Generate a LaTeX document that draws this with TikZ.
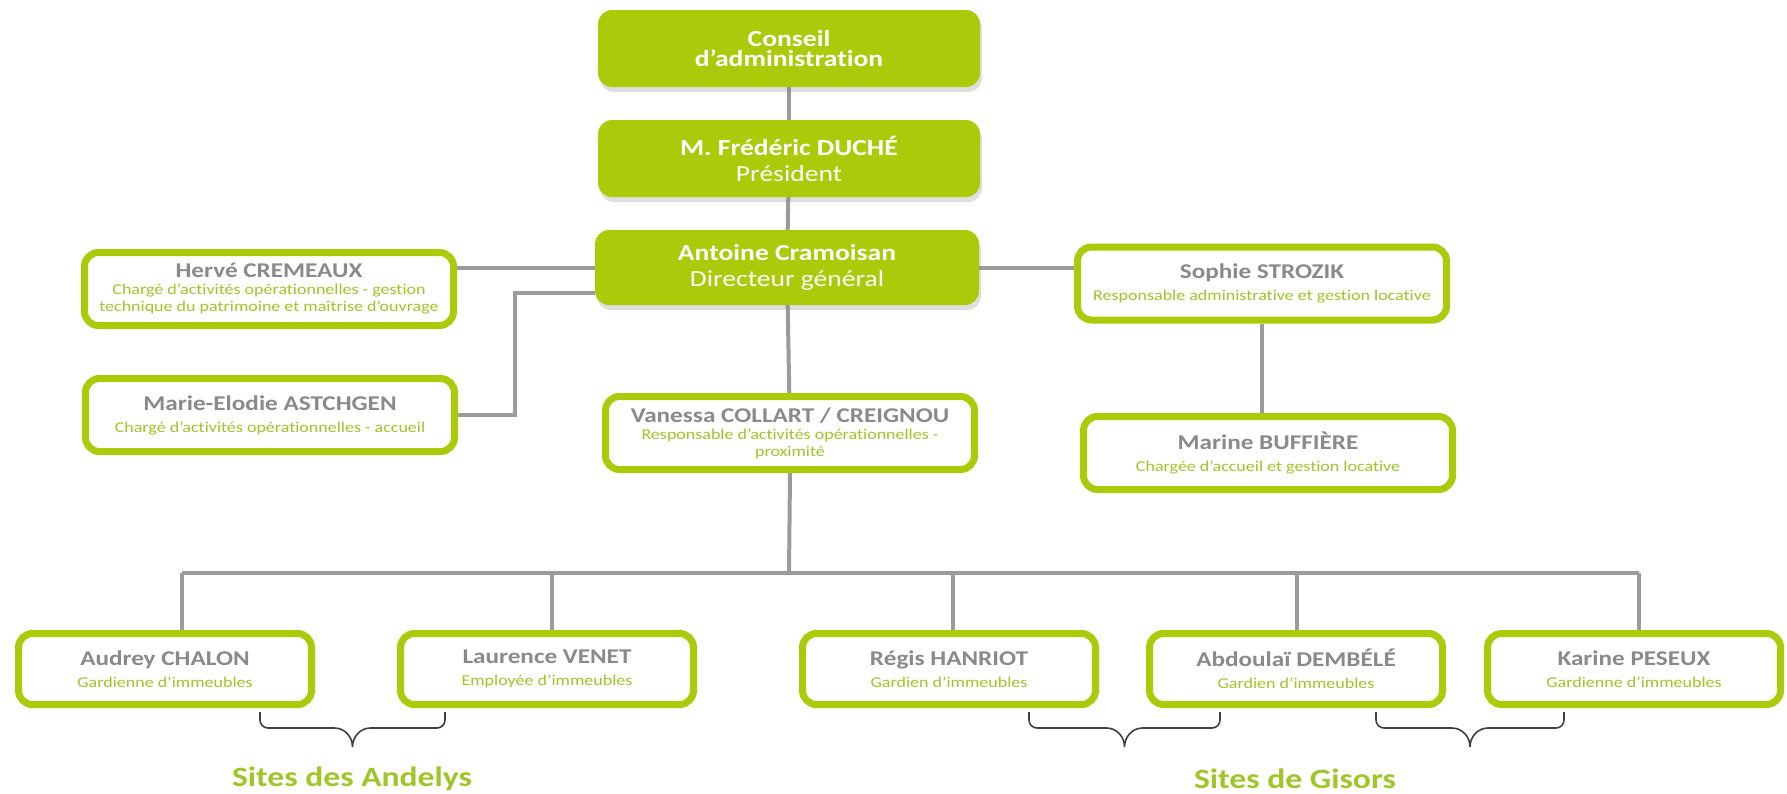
\documentclass[tikz,border=0pt]{standalone}
\usepackage{fontspec}
\setmainfont{Carlito}[FakeStretch=1.2,Ligatures=NoCommon]
\usetikzlibrary{positioning,calc,backgrounds,shadows}
\definecolor{leaf}{RGB}{170,202,10}
\definecolor{leaftext}{RGB}{158,198,40}
\definecolor{slate}{RGB}{138,138,138}
\definecolor{wiregray}{RGB}{155,155,155}

\newcommand{\who}[1]{{\fontsize{21}{17}\selectfont\bfseries\color{slate}#1}}
\newcommand{\role}[1]{{\color{leaftext}#1}}
\newcommand{\curlybrace}[2]{%
  \draw[curly] (#1) -- ++(0,8) to[out=-90,in=180] ++(8,8)
    -- ($(#1)!.5!(#2)+(-18,16)$) to[out=0,in=90] ($(#1)!.5!(#2)+(0,35)$)
    to[out=90,in=180] ($(#1)!.5!(#2)+(18,16)$) -- ($(#2)+(-8,16)$)
    to[out=0,in=-90] ($(#2)+(0,8)$) -- (#2);}

\begin{document}
\begin{tikzpicture}[x=1pt,y=-1pt,
    box/.style={rectangle,rounded corners=14pt,align=center,inner sep=0pt},
    lead/.style={box,fill=leaf,text=white,minimum width=382pt,minimum height=77pt,
      font=\fontsize{23}{20}\selectfont,
      drop shadow={shadow xshift=2pt,shadow yshift=-5pt,opacity=.25}},
    staff/.style={box,draw=leaf,line width=7pt,fill=white,minimum width=369pt,minimum height=73pt,
      font=\fontsize{15}{17}\selectfont},
    keeper/.style={staff,minimum width=293pt,minimum height=71pt},
    wire/.style={draw=wiregray,line width=4pt},
    curly/.style={draw=black!75,line width=1.6pt},
    sites/.style={font=\fontsize{28}{30}\selectfont\bfseries,text=leaftext}]

    \useasboundingbox (0,0) rectangle (1787,793);

    \node[lead] (board) at (789,48.5) {\textbf{Conseil}\\\textbf{d’administration}};
    \node[lead] (pres) at (789,158.5) {\textbf{M. Frédéric DUCHÉ}\\[6pt]Président};
    \node[lead,minimum width=384pt,minimum height=75pt] (dg) at (787,267.5) {\textbf{Antoine Cramoisan}\\[6pt]Directeur général};

    \node[staff] (herve) at (269,289) {\who{Hervé CREMEAUX}\\\role{Chargé d’activités opérationnelles - gestion}\\\role{technique du patrimoine et maîtrise d’ouvrage}};
    \node[staff] (marie) at (270,415) {\who{Marie-Elodie ASTCHGEN}\\[5pt]\role{Chargé d’activités opérationnelles - accueil}};
    \node[staff] (vanessa) at (790,433) {\who{Vanessa COLLART / CREIGNOU}\\\role{Responsable d’activités opérationnelles -}\\\role{proximité}};
    \node[staff] (sophie) at (1262,283.5) {\who{Sophie STROZIK}\\[5pt]\role{Responsable administrative et gestion locative}};
    \node[staff] (marine) at (1268,453) {\who{Marine BUFFIÈRE}\\[5pt]\role{Chargée d’accueil et gestion locative}};

    \node[keeper] (audrey) at (165,669) {\who{Audrey CHALON}\\[5pt]\role{Gardienne d’immeubles}};
    \node[keeper] (laurence) at (547,669) {\who{Laurence VENET}\\[5pt]\role{Employée d’immeubles}};
    \node[keeper] (regis) at (949,669) {\who{Régis HANRIOT}\\[5pt]\role{Gardien d’immeubles}};
    \node[keeper] (abdoulai) at (1296,669) {\who{Abdoulaï DEMBÉLÉ}\\[5pt]\role{Gardien d’immeubles}};
    \node[keeper] (karine) at (1634,669) {\who{Karine PESEUX}\\[5pt]\role{Gardienne d’immeubles}};

    % bus and drop points
    \coordinate (bus) at (789,573);
    \coordinate (dA) at (182,573);
    \coordinate (dL) at (552,573);
    \coordinate (dR) at (953,573);
    \coordinate (dD) at (1297,573);
    \coordinate (dK) at (1639,573);

    \begin{scope}[on background layer]
      \draw[wire] (board) -- (pres);
      \draw[wire] (pres) -- (dg);
      \draw[wire] (dg) -- (vanessa);
      \draw[wire] (vanessa.south) -- (bus);
      \draw[wire] (dg.west) -- (herve.east |- dg.west);
      \draw[wire] (dg.east) -- (sophie.west |- dg.east);
      \draw[wire] ([yshift=-25.5pt]dg.west) -| ([xshift=57pt]marie.east) -- (marie.east);
      \draw[wire] (sophie.south) -- (sophie.south |- marine.north);
      \draw[wire] (dA) -- (dK);
      \foreach \p/\n in {dA/audrey,dL/laurence,dR/regis,dD/abdoulai,dK/karine}
        \draw[wire] (\p) -- (\p |- \n.north);
    \end{scope}

    % braces under the sites
    \coordinate (aL) at (260,712);
    \coordinate (aR) at (445,712);
    \coordinate (gL) at (1029,712);
    \coordinate (gR) at (1220,712);
    \coordinate (hL) at (1376,712);
    \coordinate (hR) at (1564,712);
    \curlybrace{aL}{aR}
    \curlybrace{gL}{gR}
    \curlybrace{hL}{hR}

    \node[sites] (andelys) at (352,779) {Sites des Andelys};
    \node[sites] (gisors) at (1295,779) {Sites de Gisors};
\end{tikzpicture}
\end{document}
